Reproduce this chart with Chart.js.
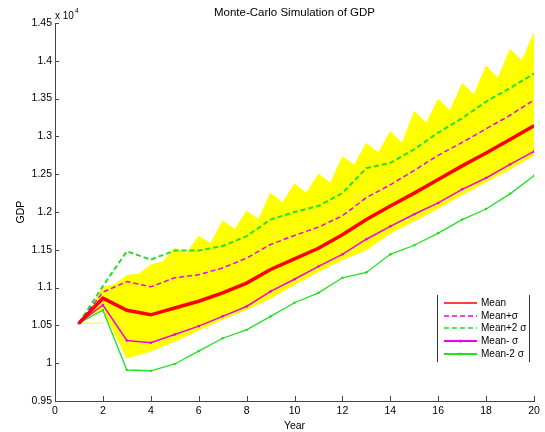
<!DOCTYPE html>
<html>
<head>
<meta charset="utf-8">
<title>Monte-Carlo Simulation of GDP</title>
<script src="https://cdn.jsdelivr.net/npm/chart.js@4.4.1/dist/chart.umd.min.js"></script>
<style>
  body { margin: 0; background: #fff; }
</style>
</head>
<body>
<canvas id="gdpChart" width="545" height="432"></canvas>
<script>
// GDP values are in units of 10^4
var years = [1, 2, 3, 4, 5, 6, 7, 8, 9, 10, 11, 12, 13, 14, 15, 16, 17, 18, 19, 20];
var meanGDP     = [1.053, 1.086, 1.070, 1.064, 1.073, 1.082, 1.093, 1.106, 1.124, 1.138, 1.152, 1.170, 1.190, 1.208, 1.225, 1.243, 1.261, 1.278, 1.296, 1.314];
var plusOneSd   = [1.053, 1.094, 1.108, 1.101, 1.113, 1.117, 1.126, 1.139, 1.157, 1.169, 1.180, 1.195, 1.219, 1.236, 1.255, 1.275, 1.292, 1.310, 1.328, 1.348];
var plusTwoSd   = [1.053, 1.102, 1.148, 1.137, 1.149, 1.149, 1.155, 1.168, 1.190, 1.200, 1.208, 1.225, 1.258, 1.265, 1.283, 1.305, 1.324, 1.346, 1.364, 1.383];
var minusOneSd  = [1.053, 1.077, 1.030, 1.027, 1.038, 1.049, 1.062, 1.075, 1.095, 1.111, 1.128, 1.144, 1.164, 1.181, 1.197, 1.212, 1.230, 1.245, 1.263, 1.280];
var minusTwoSd  = [1.053, 1.070, 0.991, 0.990, 0.999, 1.016, 1.033, 1.044, 1.062, 1.080, 1.093, 1.113, 1.120, 1.144, 1.156, 1.172, 1.190, 1.204, 1.224, 1.248];

// outline of the simulated paths (yellow band)
var topYears = [1, 1.5, 2, 2.5, 3, 3.5, 4, 4.5, 5, 5.5, 6, 6.5, 7, 7.5, 8, 8.5, 9, 9.5, 10, 10.5,
                11, 11.5, 12, 12.5, 13, 13.5, 14, 14.5, 15, 15.5, 16, 16.5, 17, 17.5, 18, 18.5, 19, 19.5, 20];
var simTop = [1.053, 1.072, 1.100, 1.104, 1.116, 1.118, 1.130, 1.134, 1.152, 1.145, 1.168, 1.158, 1.188, 1.177, 1.201, 1.190, 1.225, 1.212, 1.237, 1.225,
              1.250, 1.238, 1.273, 1.262, 1.291, 1.278, 1.306, 1.291, 1.333, 1.317, 1.349, 1.334, 1.370, 1.355, 1.393, 1.377, 1.415, 1.400, 1.437];
var simBottom = [1.053, 1.071, 1.007, 1.016, 1.029, 1.044, 1.058, 1.071, 1.086, 1.104, 1.121, 1.137, 1.150, 1.172, 1.188, 1.205, 1.223, 1.240, 1.257, 1.275];
var flatYears = [1, 2];
var flatPath = [1.053, 1.053];

var yTicks = [0.95, 1, 1.05, 1.1, 1.15, 1.2, 1.25, 1.3, 1.35, 1.4, 1.45];
var xTicks = [0, 2, 4, 6, 8, 10, 12, 14, 16, 18, 20];

var FONT = '"Liberation Sans", Arial, sans-serif';
var RED = '#ff0000', MAG = '#ee00ee', GRN = '#22e022', YEL = '#ffff00';

function pts(xs, ys) {
  return xs.map(function (x, i) { return { x: x, y: ys[i] }; });
}

var decor = {
  id: 'decor',
  afterDraw: function (chart) {
    var ctx = chart.ctx, a = chart.chartArea;
    var sx = chart.scales.x, sy = chart.scales.y;
    ctx.save();

    // inward ticks
    ctx.strokeStyle = '#444';
    ctx.lineWidth = 1;
    ctx.beginPath();
    xTicks.forEach(function (v) {
      var px = Math.round(sx.getPixelForValue(v)) + 0.5;
      ctx.moveTo(px, a.bottom);
      ctx.lineTo(px, a.bottom - 5);
    });
    yTicks.forEach(function (v) {
      var py = Math.round(sy.getPixelForValue(v)) + 0.5;
      ctx.moveTo(a.left, py);
      ctx.lineTo(a.left + 4, py);
    });
    ctx.stroke();

    ctx.fillStyle = '#000';
    ctx.textAlign = 'center';
    ctx.textBaseline = 'middle';
    ctx.font = '11.5px ' + FONT;
    ctx.fillText('Monte-Carlo Simulation of GDP', (a.left + a.right) / 2, 13);

    ctx.font = '10.5px ' + FONT;
    ctx.fillText('Year', (a.left + a.right) / 2, 426);
    ctx.save();
    ctx.translate(21, (a.top + a.bottom) / 2);
    ctx.rotate(-Math.PI / 2);
    ctx.fillText('GDP', 0, 0);
    ctx.restore();

    // exponent label
    ctx.textAlign = 'left';
    ctx.textBaseline = 'alphabetic';
    ctx.font = '10px ' + FONT;
    ctx.fillText('x 10', 55, 19);
    var w = ctx.measureText('x 10').width;
    ctx.font = '6.5px ' + FONT;
    ctx.fillText('4', 55 + w + 1, 13);

    // legend
    ctx.strokeStyle = '#333';
    ctx.lineWidth = 1;
    ctx.beginPath();
    ctx.moveTo(437.5, 295); ctx.lineTo(437.5, 362);
    ctx.moveTo(529.5, 295); ctx.lineTo(529.5, 362);
    ctx.stroke();

    var rows = chart.data.datasets.filter(function (d) { return d.inLegend; });
    ctx.font = '10px ' + FONT;
    ctx.textBaseline = 'middle';
    rows.forEach(function (d, i) {
      var y = Math.round(303 + i * 12.7);
      ctx.strokeStyle = d.borderColor;
      ctx.lineWidth = d.legendWidth;
      ctx.setLineDash(d.borderDash || []);
      ctx.beginPath();
      ctx.moveTo(444, y);
      ctx.lineTo(477, y);
      ctx.stroke();
      ctx.setLineDash([]);
      if (d.pointRadius) {
        ctx.fillStyle = d.borderColor;
        ctx.beginPath();
        ctx.arc(460.5, y, 1.6, 0, Math.PI * 2);
        ctx.fill();
      }
      ctx.fillStyle = '#000';
      ctx.fillText(d.label, 481, y);
    });
    ctx.restore();
  }
};

var ctx = document.getElementById('gdpChart').getContext('2d');
var gdpChart = new Chart(ctx, {
  type: 'line',
  data: {
    datasets: [{
      label: 'Mean',
      data: pts(years, meanGDP),
      borderColor: RED,
      borderWidth: 3.5,
      legendWidth: 1.3,
      inLegend: true,
      order: 1
    }, {
      label: 'Mean+\u03c3',
      data: pts(years, plusOneSd),
      borderColor: MAG,
      borderWidth: 1.5,
      borderDash: [5, 3],
      legendWidth: 1.3,
      inLegend: true,
      order: 2
    }, {
      label: 'Mean+2 \u03c3',
      data: pts(years, plusTwoSd),
      borderColor: GRN,
      borderWidth: 2,
      borderDash: [5, 3],
      legendWidth: 1.3,
      inLegend: true,
      order: 3
    }, {
      label: 'Mean- \u03c3',
      data: pts(years, minusOneSd),
      borderColor: MAG,
      borderWidth: 1.5,
      pointRadius: 1.3,
      pointBackgroundColor: MAG,
      pointBorderWidth: 0,
      legendWidth: 2,
      inLegend: true,
      order: 4
    }, {
      label: 'Mean-2 \u03c3',
      data: pts(years, minusTwoSd),
      borderColor: GRN,
      borderWidth: 1.3,
      pointRadius: 1.3,
      pointBackgroundColor: GRN,
      pointBorderWidth: 0,
      legendWidth: 2,
      inLegend: true,
      order: 5
    }, {
      label: 'sim top',
      data: pts(topYears, simTop),
      borderColor: YEL,
      backgroundColor: YEL,
      borderWidth: 1,
      fill: '+1',
      order: 10
    }, {
      label: 'sim bottom',
      data: pts(years, simBottom),
      borderColor: YEL,
      borderWidth: 1,
      order: 10
    }, {
      label: 'sim flat',
      data: pts(flatYears, flatPath),
      borderColor: YEL,
      borderWidth: 1,
      order: 10
    }]
  },
  options: {
    responsive: false,
    devicePixelRatio: 1,
    animation: false,
    events: [],
    layout: { padding: { top: 23, right: 11, left: 0, bottom: 0 } },
    elements: {
      point: { radius: 0 },
      line: { tension: 0, fill: false }
    },
    plugins: {
      legend: { display: false },
      tooltip: { enabled: false },
      title: { display: false }
    },
    scales: {
      x: {
        type: 'linear',
        min: 0,
        max: 20,
        afterFit: function (s) { s.height = 31; },
        afterBuildTicks: function (s) { s.ticks = xTicks.map(function (v) { return { value: v }; }); },
        grid: { display: false, drawTicks: false, tickLength: 0 },
        border: { color: '#444' },
        ticks: { color: '#000', font: { family: FONT, size: 10.5 }, padding: 4, maxRotation: 0 }
      },
      y: {
        min: 0.95,
        max: 1.45,
        afterFit: function (s) { s.width = 55; },
        afterBuildTicks: function (s) { s.ticks = yTicks.map(function (v) { return { value: v }; }); },
        grid: { display: false, drawTicks: false, tickLength: 0 },
        border: { color: '#444' },
        ticks: {
          color: '#000',
          font: { family: FONT, size: 10.5 },
          padding: 3,
          callback: function (v) { return String(parseFloat(v.toFixed(2))); }
        }
      }
    }
  },
  plugins: [decor]
});
</script>
</body>
</html>
